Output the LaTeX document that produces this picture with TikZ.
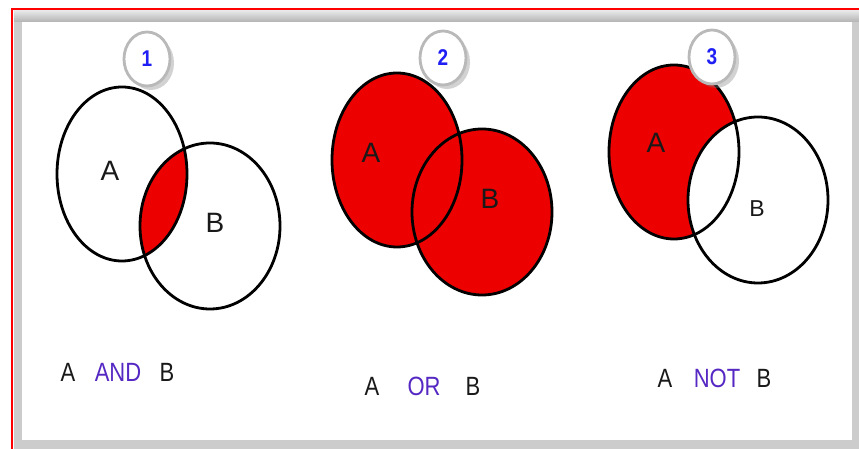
\documentclass[tikz,border=0pt]{standalone}
\usepackage{fontspec}
\setmainfont{Liberation Sans}
\usetikzlibrary{positioning,shapes.geometric,shadows}

\definecolor{vennred}{RGB}{236,0,0}
\definecolor{opblue}{RGB}{85,40,195}
\definecolor{numblue}{RGB}{30,30,245}
\newcommand{\tallword}[1]{\scalebox{1}[1.2]{#1}}

\tikzset{
    ring/.style={draw=black, line width=2.8pt},
    setA/.style={x radius=65, y radius=87},
    setB/.style={x radius=70, y radius=83},
    badge/.style={ellipse, draw=gray!55, line width=2.8pt, fill=white,
        minimum width=46pt, minimum height=54pt, inner sep=0pt,
        text=numblue, font=\bfseries\fontsize{19}{21}\selectfont,
        drop shadow={shadow xshift=4pt, shadow yshift=-4pt, opacity=0.35}},
    inlabel/.style={font=\fontsize{28}{30}\selectfont, text=black!90},
    oplabel/.style={font=\fontsize{22}{24}\selectfont, text=opblue, inner sep=1pt},
    letlabel/.style={font=\fontsize{22}{24}\selectfont, text=black!90, inner sep=1pt},
}

\begin{document}
\begin{tikzpicture}[x=1pt, y=1pt]
    \useasboundingbox (0,0) rectangle (859,449);
    \fill[white] (0,0) rectangle (859,449);

    % frame
    \fill[gray!40] (14,-5) rectangle (870,438);
    \shade[top color=gray!20, bottom color=gray!60] (14,427) rectangle (870,438);
    \fill[white] (22,9) rectangle (852,427);
    \draw[red, line width=2.2pt] (12,-20) -- (12,440) -- (880,440);

    % set centres
    \coordinate (a1) at (122,275);
    \coordinate (b1) at (210,223);
    \coordinate (a2) at (397,289);
    \coordinate (b2) at (482,237);
    \coordinate (a3) at (674,297);
    \coordinate (b3) at (758,249);

    % 1: A and B
    \begin{scope}
        \clip (a1) ellipse [setA];
        \fill[vennred] (b1) ellipse [setB];
    \end{scope}
    \draw[ring] (a1) ellipse [setA];
    \draw[ring] (b1) ellipse [setB];

    % 2: A or B
    \fill[vennred] (a2) ellipse [setA];
    \fill[vennred] (b2) ellipse [setB];
    \draw[ring] (a2) ellipse [setA];
    \draw[ring] (b2) ellipse [setB];

    % 3: A not B
    \fill[vennred] (a3) ellipse [setA];
    \begin{scope}
        \clip (a3) ellipse [setA];
        \fill[white] (b3) ellipse [setB];
    \end{scope}
    \draw[ring] (a3) ellipse [setA];
    \draw[ring] (b3) ellipse [setB];

    % set names
    \node[inlabel] (la1) at (110,278) {A};
    \node[inlabel] (lb1) at (215,226) {B};
    \node[inlabel] (la2) at (371,296) {A};
    \node[inlabel] (lb2) at (490,250) {B};
    \node[inlabel] (la3) at (656,306) {A};
    \node[inlabel, font=\fontsize{23}{25}\selectfont] (lb3) at (757,240) {B};

    % number badges
    \node[badge] (n1) at (147,390) {\tallword{1}};
    \node[badge] (n2) at (443,391) {\tallword{2}};
    \node[badge] (n3) at (712,392) {\tallword{3}};

    % captions
    \node[oplabel] (and) at (118,77) {\tallword{AND}};
    \node[letlabel] (ca1) at (68,77) {\tallword{A}};
    \node[letlabel] (cb1) at (167,77) {\tallword{B}};

    \node[oplabel] (or) at (424,63) {\tallword{OR}};
    \node[letlabel] (ca2) at (372,63) {\tallword{A}};
    \node[letlabel] (cb2) at (473,63) {\tallword{B}};

    \node[oplabel] (not) at (717,71) {\tallword{NOT}};
    \node[letlabel] (ca3) at (665,71) {\tallword{A}};
    \node[letlabel] (cb3) at (764,71) {\tallword{B}};
\end{tikzpicture}
\end{document}
